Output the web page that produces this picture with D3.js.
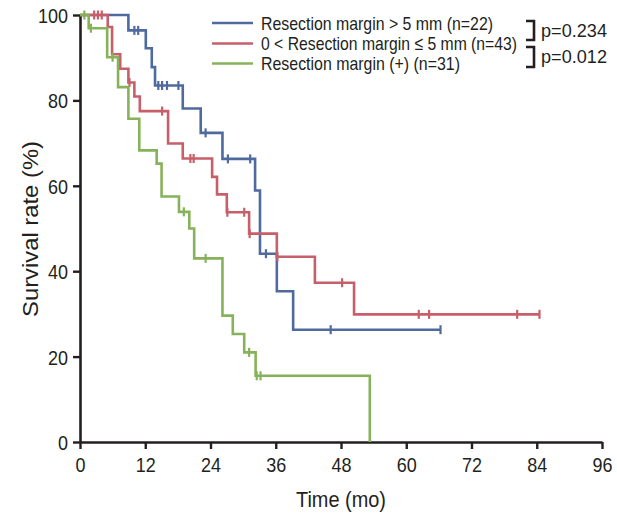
<!DOCTYPE html>
<html><head><meta charset="utf-8">
<script src="https://cdn.jsdelivr.net/npm/d3@7/dist/d3.min.js"></script>
<style>
body{margin:0;background:#fff;}
svg text{font-family:"Liberation Sans",Arial,sans-serif;fill:#231f20;}
</style></head>
<body><svg id="c" width="617" height="518"></svg>
<script>
// ---- data ----
const xTicks = [0,12,24,36,48,60,72,84,96];
const yTicks = [0,20,40,60,80,100];

const blueTimes  = [0, 8.9, 12.1, 13.2, 13.8, 18.9, 22.2, 26.2, 32.2, 33.1, 36.2, 39.2, 66.3];
const blueSurv   = [100, 96.4, 92.2, 87.8, 83.5, 78.1, 72.4, 66.3, 58.9, 44.1, 35.3, 26.3, 26.3];
const blueCensor = [10.0, 10.7, 14.4, 15.1, 16.0, 18.1, 23.1, 27.2, 31.3, 34.2, 46.1, 66.3];

const redTimes  = [0, 5.1, 5.9, 7.4, 8.9, 10.0, 11.0, 16.2, 18.9, 24.3, 25.2, 27.0, 31.1, 36.2, 43.2, 50.4, 84.6];
const redSurv   = [100, 97.2, 90.8, 87.4, 84.2, 80.9, 77.5, 69.9, 66.4, 62.1, 58.0, 53.8, 48.8, 43.4, 37.3, 29.9, 29.9];
const redCensor = [2.6, 3.3, 4.0, 9.1, 15.1, 20.3, 20.9, 27.1, 30.2, 31.2, 36.3, 48.2, 62.3, 64.2, 80.4, 84.5];

const greenTimes  = [0, 1.6, 5.0, 7.0, 8.9, 10.9, 14.1, 15.0, 18.2, 20.1, 21.0, 26.2, 28.1, 30.2, 32.3, 53.3];
const greenSurv   = [100, 96.9, 90.1, 83.1, 75.7, 68.3, 65.2, 57.5, 53.9, 50.0, 43.0, 29.6, 25.3, 21.0, 15.5, 0];
const greenCensor = [0.8, 2.0, 6.0, 19.1, 23.1, 31.1, 32.5, 33.2];

const seriesNames = ["Resection margin > 5 mm (n=22)", "0 < Resection margin \u2264 5 mm (n=43)", "Resection margin (+) (n=31)"];
const pLabels = ["p=0.234", "p=0.012"];

// ---- chart ----
const colors = ["#4f6a9e", "#c75f6a", "#86b25a"];
const series = [
  {t: blueTimes, s: blueSurv, c: blueCensor, col: colors[0]},
  {t: redTimes, s: redSurv, c: redCensor, col: colors[1]},
  {t: greenTimes, s: greenSurv, c: greenCensor, col: colors[2]}
];

// condensed look: squeeze text horizontally to a target width
function squeeze(sel, w){
  sel.attr("textLength", w).attr("lengthAdjust","spacingAndGlyphs");
}

const svg = d3.select("#c");
const x = d3.scaleLinear().domain([0,96]).range([80,602]);
const y = d3.scaleLinear().domain([0,100]).range([442,15]);

// axes
const xAxis = svg.append("g").attr("transform","translate(0,442)")
  .call(d3.axisBottom(x).tickValues(xTicks).tickSize(7).tickSizeOuter(0).tickPadding(5));
const yAxis = svg.append("g").attr("transform","translate(80,0)")
  .call(d3.axisLeft(y).tickValues(yTicks).tickSize(7).tickSizeOuter(0).tickPadding(5));
[xAxis,yAxis].forEach(g=>{
  g.select(".domain").attr("stroke","#231f20").attr("stroke-width",2.6);
  g.selectAll(".tick line").attr("stroke","#231f20").attr("stroke-width",2.4);
  g.selectAll(".tick text").style("font-size","21px").attr("fill","#231f20")
    .each(function(){ const n=this.textContent.length; squeeze(d3.select(this), n*10); });
});
xAxis.selectAll(".tick text").attr("dy","0.85em");
yAxis.selectAll(".tick text").attr("dy","0.36em");

squeeze(svg.append("text").attr("x",341).attr("y",507).attr("text-anchor","middle")
  .style("font-size","22px").text("Time (mo)"), 90);
squeeze(svg.append("text").attr("transform","translate(38,229) rotate(-90)").attr("text-anchor","middle")
  .style("font-size","22px").text("Survival rate (%)"), 176);

// curves
const line = d3.line().x(d=>x(d[0])).y(d=>y(d[1])).curve(d3.curveStepAfter);
function survAt(sr, t){
  let v = sr.s[0];
  for(let i=0;i<sr.t.length;i++){ if(sr.t[i] <= t+1e-9) v = sr.s[i]; }
  return v;
}
series.forEach(sr=>{
  const pts = sr.t.map((t,i)=>[t, sr.s[i]]);
  svg.append("path").attr("d", line(pts)).attr("fill","none")
    .attr("stroke", sr.col).attr("stroke-width",2.6);
  svg.append("g").selectAll("line").data(sr.c).join("line")
    .attr("x1", d=>x(d)).attr("x2", d=>x(d))
    .attr("y1", d=>y(survAt(sr,d))-4.5).attr("y2", d=>y(survAt(sr,d))+4.5)
    .attr("stroke", sr.col).attr("stroke-width",2.2);
});

// legend
const legY = [23, 43.5, 63.5];
const legW = [232, 256, 199];
seriesNames.forEach((n,i)=>{
  svg.append("line").attr("x1",212).attr("x2",253).attr("y1",legY[i]).attr("y2",legY[i])
    .attr("stroke",colors[i]).attr("stroke-width",2.6);
  squeeze(svg.append("text").attr("x",261).attr("y",legY[i]).attr("dy","0.36em")
    .style("font-size","19px").text(n), legW[i]);
});
// brackets
const br = [[21,40],[47,67]];
br.forEach(b=>{
  svg.append("path").attr("d",`M526,${b[0]}H534V${b[1]}H526`).attr("fill","none")
    .attr("stroke","#231f20").attr("stroke-width",2.6);
});
squeeze(svg.append("text").attr("x",541).attr("y",30.5).attr("dy","0.36em").style("font-size","18.5px").text(pLabels[0]), 66);
squeeze(svg.append("text").attr("x",541).attr("y",56).attr("dy","0.36em").style("font-size","18.5px").text(pLabels[1]), 66);
</script></body></html>
